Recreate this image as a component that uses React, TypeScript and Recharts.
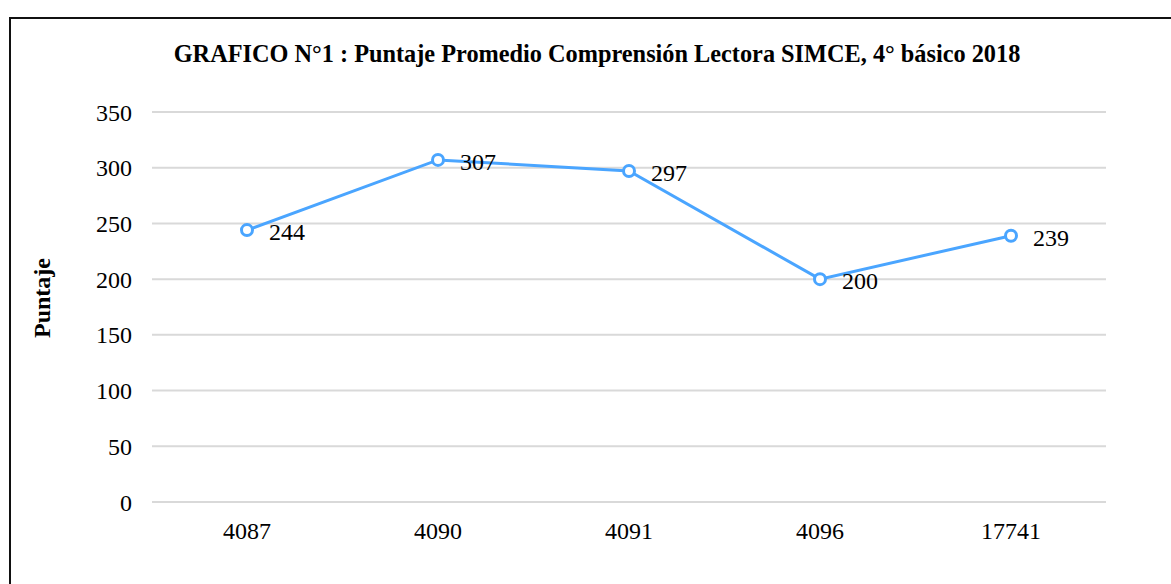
import React from 'react';
import { LineChart, Line, XAxis, YAxis, CartesianGrid, LabelList } from 'recharts';

const categories = ['4087', '4090', '4091', '4096', '17741'];
const scores = [244, 307, 297, 200, 239];
const yTicks = [0, 50, 100, 150, 200, 250, 300, 350];
const title = 'GRAFICO N°1 : Puntaje Promedio Comprensión Lectora SIMCE, 4° básico 2018';
const yLabel = 'Puntaje';

const data = categories.map((c, i) => ({ name: c, value: scores[i] }));

const FONT = '"Liberation Serif", "Times New Roman", Times, serif';
const BLUE = '#4aa5ff';

const renderLabel = (props: any) => {
  const { x, y, value, viewBox } = props;
  const px = x ?? viewBox?.x;
  const py = y ?? viewBox?.y;
  return (
    <text x={px + 22} y={py + 10} fontSize={24} style={{ fontFamily: FONT }} fill="#000" textAnchor="start">
      {value}
    </text>
  );
};

export default function App() {
  return (
    <div
      style={{
        position: 'absolute',
        left: 0,
        top: 0,
        width: 1171,
        height: 584,
        overflow: 'hidden',
        background: '#fff',
        fontFamily: FONT,
      }}
    >
      <div
        style={{
          position: 'absolute',
          left: 9,
          top: 17,
          width: 1200,
          height: 700,
          border: '2px solid #111',
          boxSizing: 'border-box',
        }}
      />
      <div style={{ position: 'absolute', left: 0, top: 0, fontFamily: FONT }}>
        <LineChart
          width={1171}
          height={584}
          data={data}
          margin={{ top: 112, right: 65, bottom: 0, left: 0 }}
          style={{ fontFamily: FONT }}
        >
          <CartesianGrid vertical={false} stroke="#d9d9d9" strokeWidth={2} />
          <XAxis
            dataKey="name"
            axisLine={false}
            tickLine={false}
            tickSize={0}
            tickMargin={20}
            padding={{ left: 95, right: 95 }}
            tick={{ fontSize: 24, fill: '#000', style: { fontFamily: FONT } }}
            height={82}
          />
          <YAxis
            domain={[0, 350]}
            ticks={yTicks}
            axisLine={false}
            tickLine={false}
            tickSize={0}
            tickMargin={20}
            width={152}
            tick={{ fontSize: 24, fill: '#000', style: { fontFamily: FONT } }}
          />
          <Line
            type="linear"
            dataKey="value"
            stroke={BLUE}
            strokeWidth={3}
            dot={{ r: 5.5, fill: '#fff', stroke: BLUE, strokeWidth: 3 }}
            activeDot={false}
            isAnimationActive={false}
          >
            <LabelList dataKey="value" content={renderLabel} />
          </Line>
        </LineChart>
      </div>
      <svg width={1171} height={584} style={{ position: 'absolute', left: 0, top: 0, pointerEvents: 'none', fontFamily: FONT }}>
        <text x={597} y={62} textAnchor="middle" fontSize={24.3} fontWeight="bold" fill="#000">
          {title}
        </text>
        <text transform="translate(50,298) rotate(-90)" textAnchor="middle" fontSize={24} fontWeight="bold" fill="#000">
          {yLabel}
        </text>
      </svg>
    </div>
  );
}
